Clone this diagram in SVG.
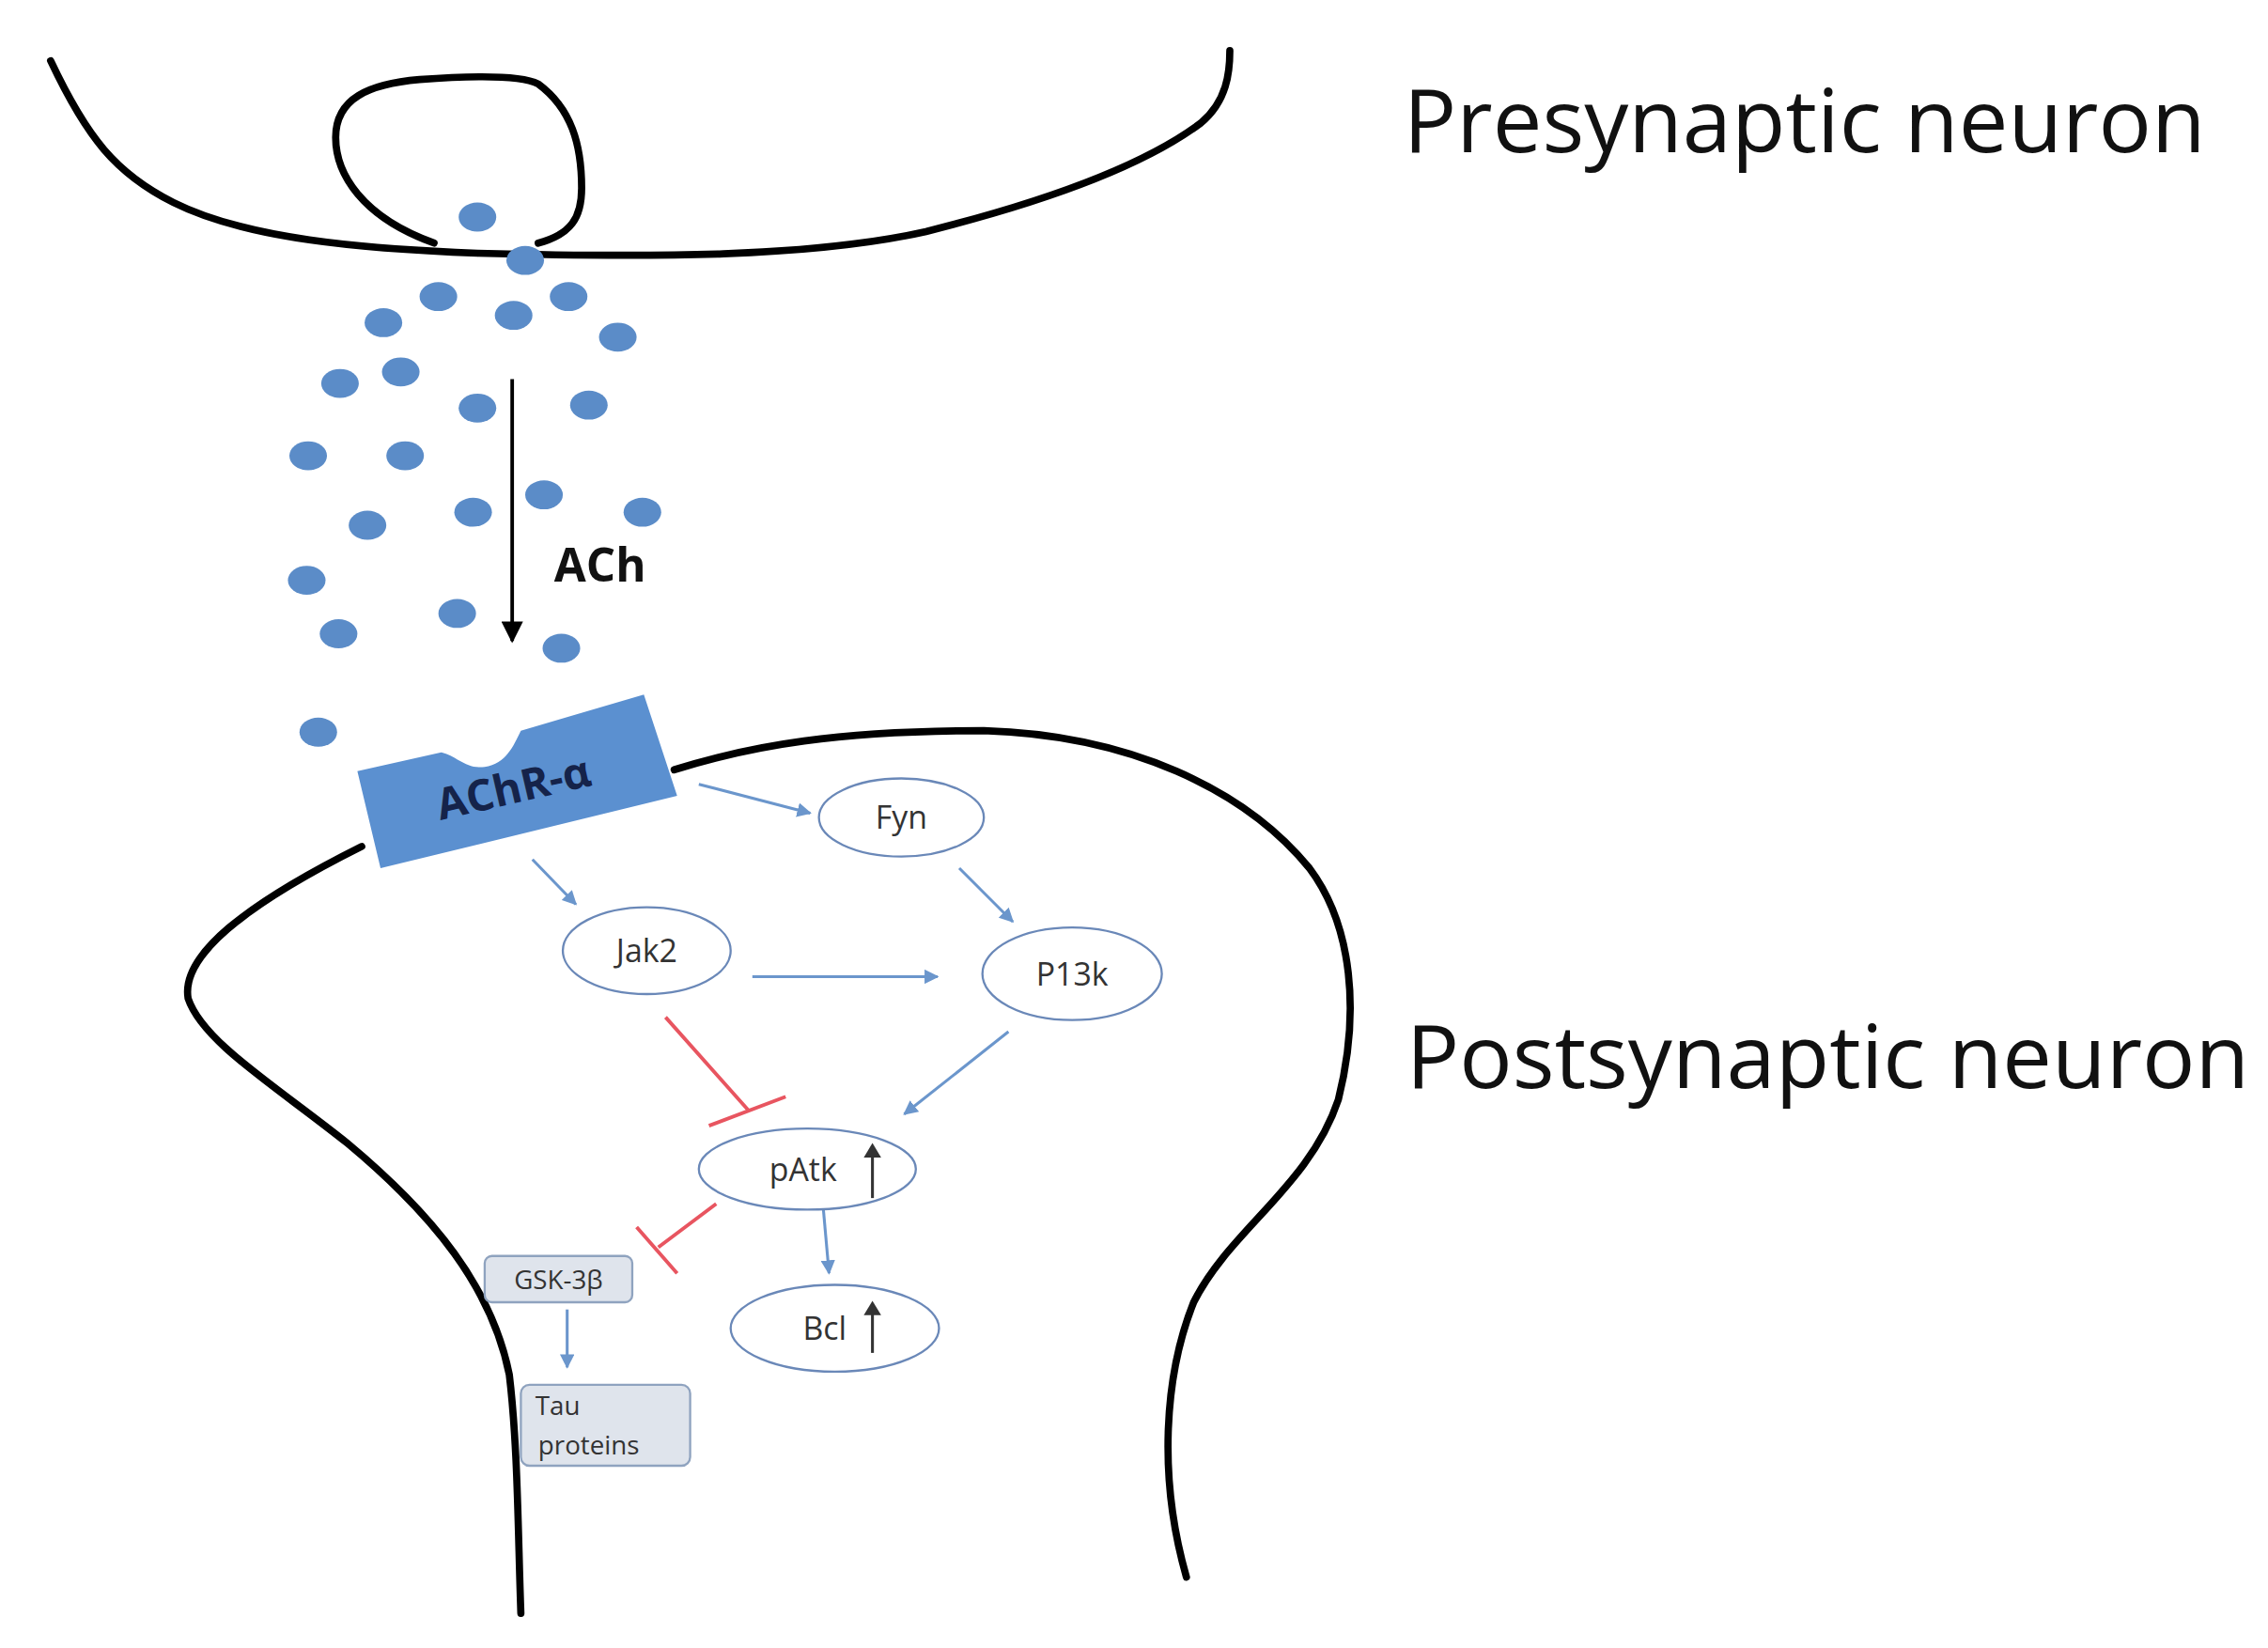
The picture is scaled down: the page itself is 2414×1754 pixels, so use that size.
<svg xmlns="http://www.w3.org/2000/svg" width="2414" height="1754" viewBox="0 0 2414 1754">
<defs>
<style>
.mem{fill:none;stroke:#000;stroke-width:5;stroke-linecap:round;stroke-linejoin:round}
.dot{fill:#5b8cc8}
.node{fill:#fff;stroke:#6a88b8;stroke-width:1.5}
.box{fill:#dfe4ec;stroke:#8fa3bf;stroke-width:1.5}
.act{fill:none;stroke:#6b96cc;stroke-width:2;marker-end:url(#ab)}
.inh{fill:none;stroke:#e85560;stroke-width:2.5}
.lbl{font-family:"Open Sans","Liberation Sans",sans-serif;fill:#333;font-size:22px;text-anchor:middle}
.lbls{font-family:"Open Sans","Liberation Sans",sans-serif;fill:#333;font-size:18px;text-anchor:start}
.big{font-family:"Open Sans","Liberation Sans",sans-serif;fill:#111;font-size:61px}
</style>
<marker id="ab" viewBox="0 0 10 10" refX="9" refY="5" markerWidth="5" markerHeight="5" orient="auto"><path d="M0,0L10,5L0,10z" fill="#6b96cc"/></marker>
<marker id="ak" viewBox="0 0 10 10" refX="9" refY="5" markerWidth="6" markerHeight="6" orient="auto"><path d="M0,0L10,5L0,10z" fill="#000"/></marker>
</defs>
<rect width="2414" height="1754" fill="#fff"/>
<g transform="scale(1.54)">
<g id="presynaptic">
<path class="mem" d="M35,42 C60,95 80,120 120,140 C170,165 250,172 330,175 C450,178 560,178 640,160 C720,140 790,115 830,85 C848,70 850,50 850,35"/>
<path class="mem" d="M300,168 C250,150 232,120 232,95 C232,68 255,58 290,55 C330,52 360,52 372,58 C395,75 402,100 402,130 C402,150 395,162 372,168"/>
</g>
<g id="ach-dots">
<ellipse class="dot" cx="330" cy="150" rx="13" ry="10"/><ellipse class="dot" cx="363" cy="180" rx="13" ry="10"/>
<ellipse class="dot" cx="303" cy="205" rx="13" ry="10"/><ellipse class="dot" cx="355" cy="218" rx="13" ry="10"/>
<ellipse class="dot" cx="393" cy="205" rx="13" ry="10"/><ellipse class="dot" cx="265" cy="223" rx="13" ry="10"/>
<ellipse class="dot" cx="427" cy="233" rx="13" ry="10"/><ellipse class="dot" cx="235" cy="265" rx="13" ry="10"/>
<ellipse class="dot" cx="277" cy="257" rx="13" ry="10"/><ellipse class="dot" cx="330" cy="282" rx="13" ry="10"/>
<ellipse class="dot" cx="407" cy="280" rx="13" ry="10"/><ellipse class="dot" cx="213" cy="315" rx="13" ry="10"/>
<ellipse class="dot" cx="280" cy="315" rx="13" ry="10"/><ellipse class="dot" cx="327" cy="354" rx="13" ry="10"/>
<ellipse class="dot" cx="376" cy="342" rx="13" ry="10"/><ellipse class="dot" cx="444" cy="354" rx="13" ry="10"/>
<ellipse class="dot" cx="254" cy="363" rx="13" ry="10"/><ellipse class="dot" cx="212" cy="401" rx="13" ry="10"/>
<ellipse class="dot" cx="316" cy="424" rx="13" ry="10"/><ellipse class="dot" cx="234" cy="438" rx="13" ry="10"/>
<ellipse class="dot" cx="388" cy="448" rx="13" ry="10"/><ellipse class="dot" cx="220" cy="506" rx="13" ry="10"/>
</g>
<g id="postsynaptic">
<path class="mem" d="M360,1115 C358,1060 358,1000 352,950 C340,890 300,840 240,790 C190,750 140,720 130,690 C125,660 170,625 250,585"/>
<path class="mem" d="M466,532 C520,515 580,505 680,505 C780,508 860,545 905,600 C935,640 940,700 925,760 C905,820 850,850 825,900 C805,950 800,1020 820,1090"/>
</g>
<g id="receptor">
<path d="M247,533 L305,520 C315,522 322,532 335,530 C350,528 355,515 360,505 L445,480 L468,550 L263,600 Z" fill="#5b90d0"/>
<text x="355" y="555" transform="rotate(-13 355 545)" font-family="'Open Sans','Liberation Sans',sans-serif" font-weight="bold" font-size="30" fill="#15234a" text-anchor="middle">AChR-α</text>
</g>
<g id="ach-arrow">
<line x1="354" y1="262" x2="354" y2="443" stroke="#000" stroke-width="2.5" marker-end="url(#ak)"/>
<text x="383" y="402" font-family="'Open Sans','Liberation Sans',sans-serif" font-weight="bold" font-size="32" fill="#111">ACh</text>
</g>
<g id="connectors">
<line class="act" x1="483" y1="542" x2="560" y2="562"/>
<line class="act" x1="368" y1="594" x2="398" y2="625"/>
<line class="act" x1="663" y1="600" x2="700" y2="637"/>
<line class="act" x1="520" y1="675" x2="648" y2="675"/>
<line class="act" x1="697" y1="713" x2="625" y2="770"/>
<line class="act" x1="569" y1="835" x2="573" y2="880"/>
<line class="act" x1="392" y1="905" x2="392" y2="945"/>
<path class="inh" d="M460,703 L517,767 M490,778 L543,758"/>
<path class="inh" d="M495,832 L455,862 M440,848 L468,880"/>
</g>
<g id="fyn"><ellipse class="node" cx="623" cy="565" rx="57" ry="27"/><text class="lbl" x="623" y="573">Fyn</text></g>
<g id="jak2"><ellipse class="node" cx="447" cy="657" rx="58" ry="30"/><text class="lbl" x="447" y="665">Jak2</text></g>
<g id="p13k"><ellipse class="node" cx="741" cy="673" rx="62" ry="32"/><text class="lbl" x="741" y="681">P13k</text></g>
<g id="patk"><ellipse class="node" cx="558" cy="808" rx="75" ry="28"/><text class="lbl" x="555" y="816">pAtk</text>
<line x1="603" y1="828" x2="603" y2="796" stroke="#333" stroke-width="2"/><path d="M597,800 L603,790 L609,800 Z" fill="#333"/></g>
<g id="bcl"><ellipse class="node" cx="577" cy="918" rx="72" ry="30"/><text class="lbl" x="570" y="926">Bcl</text>
<line x1="603" y1="935" x2="603" y2="905" stroke="#333" stroke-width="2"/><path d="M597,909 L603,899 L609,909 Z" fill="#333"/></g>
<g id="gsk"><rect class="box" x="335" y="868" width="102" height="32" rx="5"/><text class="lbl" x="386" y="891" style="font-size:18px">GSK-3β</text></g>
<g id="tau"><rect class="box" x="360" y="957" width="117" height="56" rx="6"/><text class="lbls" x="370" y="978">Tau</text><text class="lbls" x="372" y="1005">proteins</text></g>
<g id="labels">
<text class="big" x="970" y="105">Presynaptic neuron</text>
<text class="big" x="972" y="752">Postsynaptic neuron</text>
</g>
</g>
</svg>
